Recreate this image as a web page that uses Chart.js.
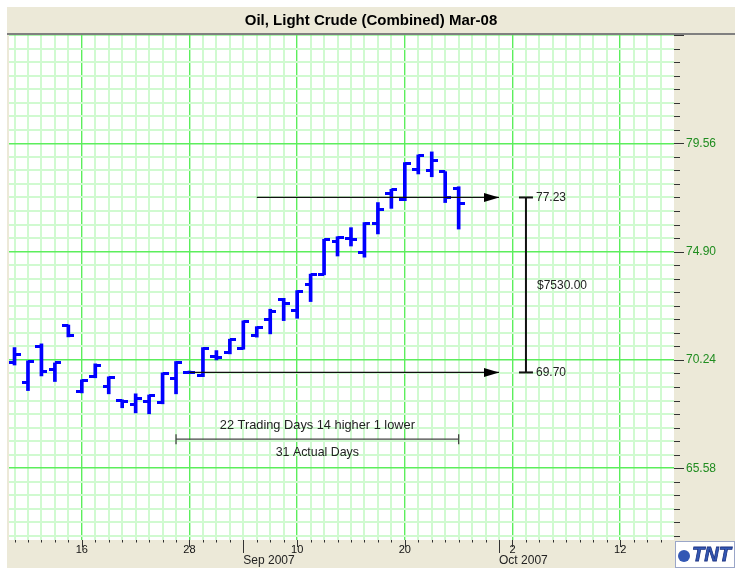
<!DOCTYPE html>
<html>
<head>
<meta charset="utf-8">
<script src="https://cdn.jsdelivr.net/npm/chart.js@4.4.1/dist/chart.umd.min.js"></script>
<style>
  html, body { margin: 0; padding: 0; background: #fff; }
  #wrap { width: 735px; height: 571px; position: relative; }
</style>
</head>
<body>
<div id="wrap"><canvas id="oil"></canvas></div>
<script>
// trading days on the chart, x = position in this list
const dates = ['Aug 9', 'Aug 10', 'Aug 13', 'Aug 14', 'Aug 15', 'Aug 16', 'Aug 17', 'Aug 20', 'Aug 21',
  'Aug 22', 'Aug 23', 'Aug 24', 'Aug 27', 'Aug 28', 'Aug 29', 'Aug 30', 'Aug 31', 'Sep 4', 'Sep 5',
  'Sep 6', 'Sep 7', 'Sep 10', 'Sep 11', 'Sep 12', 'Sep 13', 'Sep 14', 'Sep 17', 'Sep 18', 'Sep 19',
  'Sep 20', 'Sep 21', 'Sep 24', 'Sep 25', 'Sep 26'];
const opens  = [70.11, 69.25, 70.81, 69.81, 71.70, 68.88, 69.51, 69.08, 68.49, 68.30, 68.45, 68.39,
  69.42, 69.70, 69.55, 70.38, 70.55, 70.74, 71.27, 71.96, 72.82, 72.35, 73.47, 73.93, 75.33, 75.47,
  74.85, 76.13, 77.41, 77.15, 78.44, 78.38, 78.34, 77.62];
const highs  = [70.77, 70.20, 70.93, 70.11, 71.74, 69.38, 70.07, 69.51, 68.52, 68.78, 68.73, 69.68,
  70.17, 69.76, 70.77, 70.64, 71.13, 71.92, 71.67, 72.42, 72.89, 73.22, 73.93, 75.43, 75.54, 75.93,
  76.15, 77.01, 77.58, 78.73, 79.06, 79.19, 78.34, 77.69];
const lows   = [70.02, 68.92, 69.55, 69.31, 71.23, 68.82, 69.47, 68.78, 68.18, 67.96, 67.92, 68.35,
  68.78, 69.66, 69.52, 70.24, 70.50, 70.70, 71.22, 71.36, 71.93, 72.03, 72.75, 73.90, 74.71, 75.14,
  74.66, 75.66, 76.76, 77.09, 78.24, 78.12, 77.01, 75.87];
const closes = [70.48, 70.17, 69.74, 70.11, 71.27, 69.35, 70.02, 69.47, 68.43, 68.60, 68.70, 69.64,
  70.12, 69.70, 70.74, 70.36, 71.10, 71.89, 71.65, 72.32, 72.68, 73.18, 73.90, 75.40, 75.52, 75.40,
  76.12, 76.72, 77.58, 78.67, 79.03, 78.84, 77.23, 76.98];

// bottom axis: trading-day index of each label
const dayTickIdx = [5, 13, 21, 29, 37, 45];
const dayTickText = ['16', '28', '10', '20', '2', '12'];
const monthTickIdx = [17, 36];
const monthTickText = ['Sep 2007', 'Oct 2007'];

// right axis labels
const yLabels = [79.56, 74.90, 70.24, 65.58];

// drawn-on studies
const lowMark = { idx: 13, price: 69.70 };
const highMark = { idx: 18, price: 77.23 };
const arrowEndIdx = 36;
const bracketIdx = 38;
const moveText = '$7530.00';
const spanIdx = [12, 33];
const spanPrice = 66.83;
const spanText = ['22 Trading Days 14 higher 1 lower', '31 Actual Days'];

const BEIGE = '#ece9d8';
const BAR_BLUE = '#0000ff';
const MAJOR_GRID = '#5cee5c';
const MINOR_GRID = '#d0fad0';
const yStep = (yLabels[0] - yLabels[1]) / 8;
const yMax = yLabels[0] + yStep * 8;
const yMin = 62.49;
const xMin = -0.41, xMax = 49;

function tickImg(side) {
  const cv = document.createElement('canvas');
  cv.width = 12; cv.height = 3;
  const g = cv.getContext('2d');
  g.fillStyle = BAR_BLUE;
  g.fillRect(side === 'left' ? 0 : 6, 0, 6, 3);
  return cv;
}
function arrowImg() {
  const cv = document.createElement('canvas');
  cv.width = 30; cv.height = 9;
  const g = cv.getContext('2d');
  g.fillStyle = '#000';
  g.beginPath(); g.moveTo(0, 0); g.lineTo(15, 4.5); g.lineTo(0, 9); g.closePath(); g.fill();
  return cv;
}
const openTick = tickImg('left');
const closeTick = tickImg('right');
const arrowHead = arrowImg();

function arrowSet(m) {
  return {
    type: 'line',
    data: [{ x: m.idx, y: m.price }, { x: arrowEndIdx, y: m.price }],
    borderColor: '#111', borderWidth: 1.2,
    pointStyle: [false, arrowHead], pointRadius: [0, 3],
    order: 0
  };
}

const chrome = {
  id: 'chrome',
  beforeDraw(chart) {
    const c = chart.ctx, a = chart.chartArea;
    c.save();
    c.fillStyle = '#fff';
    c.fillRect(0, 0, chart.width, chart.height);
    c.fillStyle = BEIGE;
    c.fillRect(7, 7, chart.width - 7, 561);
    c.fillStyle = '#fff';
    c.fillRect(a.left, a.top, a.right - a.left, a.bottom - a.top);
    c.restore();
  },
  afterDatasetsDraw(chart) {
    const c = chart.ctx, xs = chart.scales.x, ys = chart.scales.y;
    c.save();
    c.font = '12px Arial';
    c.fillStyle = '#222';
    c.textBaseline = 'middle';
    c.textAlign = 'left';
    const bx = xs.getPixelForValue(bracketIdx) + 10;
    c.fillText(highMark.price.toFixed(2), bx, ys.getPixelForValue(highMark.price));
    c.fillText(lowMark.price.toFixed(2), bx, ys.getPixelForValue(lowMark.price));
    c.fillText(moveText, bx + 1, ys.getPixelForValue((highMark.price + lowMark.price) / 2) + 1);
    c.textAlign = 'center';
    c.font = '12.8px Arial';
    const mx = xs.getPixelForValue((spanIdx[0] + spanIdx[1]) / 2);
    const my = ys.getPixelForValue(spanPrice);
    c.fillText(spanText[0], mx, my - 13.5);
    c.font = '12.4px Arial';
    c.fillText(spanText[1], mx, my + 13);
    c.restore();
  },
  afterDraw(chart) {
    const c = chart.ctx, a = chart.chartArea, xs = chart.scales.x, ys = chart.scales.y;
    c.save();
    // rule under the title
    c.fillStyle = '#808080';
    c.fillRect(7, 33, chart.width - 7, 2);
    // right axis tick marks
    c.strokeStyle = '#333';
    c.lineWidth = 1;
    ys.ticks.forEach((t, k) => {
      const y = Math.round(ys.getPixelForValue(t.value)) + 0.5;
      const len = k % 8 === 0 ? 10 : 6;
      c.beginPath(); c.moveTo(a.right, y); c.lineTo(a.right + len, y); c.stroke();
    });
    // bottom axis tick marks
    xs.ticks.forEach(t => {
      const x = Math.round(xs.getPixelForValue(t.value)) + 0.5;
      let len = 2.5;
      if (dayTickIdx.includes(t.value)) len = 7;
      if (monthTickIdx.includes(t.value)) len = 13;
      c.beginPath(); c.moveTo(x, a.bottom); c.lineTo(x, a.bottom + len); c.stroke();
    });
    // month names
    c.font = '12px Arial';
    c.fillStyle = '#222';
    c.textAlign = 'left';
    c.textBaseline = 'middle';
    monthTickIdx.forEach((idx, k) => {
      c.fillText(monthTickText[k], xs.getPixelForValue(idx), 561);
    });
    // vendor badge
    c.fillStyle = '#fff';
    c.fillRect(675, 541, 60, 27);
    c.strokeStyle = '#9aa6c8';
    c.strokeRect(675.5, 541.5, 59, 26);
    c.font = 'italic bold 20px Arial';
    c.fillStyle = '#3358b4';
    c.strokeStyle = '#1c3280';
    c.lineWidth = 0.8;
    c.fillText('TNT', 692, 555);
    c.strokeText('TNT', 692, 555);
    c.fillStyle = '#3358b4';
    c.beginPath(); c.arc(684, 556, 6, 0, Math.PI * 2); c.fill();
    c.restore();
  }
};

new Chart(document.getElementById('oil'), {
  type: 'bar',
  data: {
    datasets: [
      arrowSet(highMark),
      arrowSet(lowMark),
      {
        type: 'line',
        data: [{ x: bracketIdx, y: lowMark.price }, { x: bracketIdx, y: highMark.price }],
        borderColor: '#111', borderWidth: 2,
        pointStyle: 'line', pointRadius: 7, pointBorderWidth: 2, pointBorderColor: '#111',
        order: 0
      },
      {
        type: 'line',
        data: [{ x: spanIdx[0], y: spanPrice }, { x: spanIdx[1], y: spanPrice }],
        borderColor: '#444', borderWidth: 1.3,
        pointStyle: 'line', pointRotation: 90, pointRadius: 5, pointBorderWidth: 1.3, pointBorderColor: '#444',
        order: 0
      },
      {
        type: 'line',
        data: dates.map((d, i) => ({ x: i, y: opens[i] })),
        showLine: false, pointStyle: openTick, pointRadius: 3,
        order: 1
      },
      {
        type: 'line',
        data: dates.map((d, i) => ({ x: i, y: closes[i] })),
        showLine: false, pointStyle: closeTick, pointRadius: 3,
        order: 1
      },
      {
        data: dates.map((d, i) => ({ x: i, y: [lows[i], highs[i]] })),
        backgroundColor: BAR_BLUE, barThickness: 3, borderWidth: 0,
        order: 1
      }
    ]
  },
  options: {
    responsive: true,
    maintainAspectRatio: false,
    animation: false,
    events: [],
    layout: { padding: { left: 7, right: 0, top: 0, bottom: 0 } },
    plugins: {
      legend: { display: false },
      tooltip: { enabled: false },
      title: {
        display: true,
        text: 'Oil, Light Crude (Combined) Mar-08',
        color: '#000',
        font: { family: 'Arial', size: 15, weight: 'bold', lineHeight: 1.2 },
        padding: { top: 11.5, bottom: 5.5 }
      }
    },
    scales: {
      x: {
        type: 'linear',
        min: xMin, max: xMax,
        offset: false,
        border: { display: false },
        grid: {
          offset: false,
          drawTicks: false,
          color: ctx => dayTickIdx.includes(ctx.tick && ctx.tick.value) ? MAJOR_GRID : MINOR_GRID,
          lineWidth: ctx => dayTickIdx.includes(ctx.tick && ctx.tick.value) ? 1.4 : 2
        },
        afterBuildTicks: s => {
          s.ticks = [];
          for (let i = Math.ceil(xMin); i < xMax; i++) s.ticks.push({ value: i });
        },
        afterFit: s => { s.height = 31; },
        ticks: {
          autoSkip: false,
          maxRotation: 0,
          padding: 3,
          color: '#111',
          font: { family: 'Arial', size: 11 },
          callback: v => {
            const k = dayTickIdx.indexOf(v);
            return k >= 0 ? dayTickText[k] : '';
          }
        }
      },
      y: {
        type: 'linear',
        position: 'right',
        min: yMin, max: yMax,
        beginAtZero: false,
        border: { display: false },
        grid: {
          drawTicks: false,
          color: ctx => ctx.index % 8 === 0 ? MAJOR_GRID : MINOR_GRID,
          lineWidth: ctx => ctx.index % 8 === 0 ? 1.4 : 2
        },
        afterBuildTicks: s => {
          s.ticks = [];
          for (let k = 0; yMax - k * yStep >= yMin; k++) s.ticks.push({ value: yMax - k * yStep });
        },
        afterFit: s => { s.width = 61; },
        ticks: {
          autoSkip: false,
          padding: 12,
          color: '#1f8c1f',
          font: { family: 'Arial', size: 12 },
          callback: v => {
            const hit = yLabels.find(l => Math.abs(l - v) < 0.01);
            return hit === undefined ? '' : hit.toFixed(2);
          }
        }
      }
    }
  },
  plugins: [chrome]
});
</script>
</body>
</html>
